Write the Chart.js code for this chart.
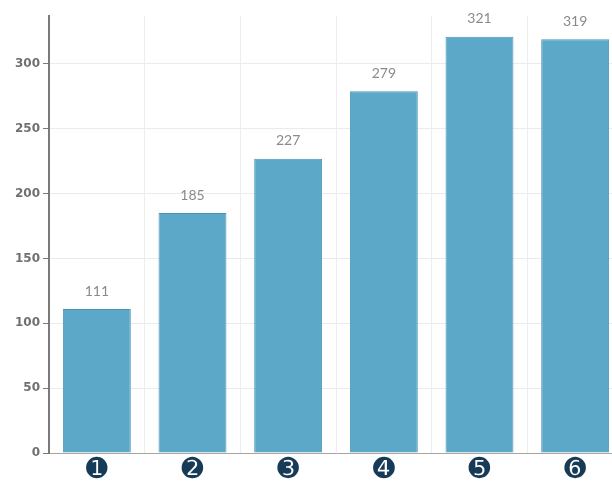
<!DOCTYPE html>
<html>
<head>
<meta charset="utf-8">
<script src="https://cdn.jsdelivr.net/npm/chart.js@4/dist/chart.umd.min.js"></script>
<style>
  html, body { margin: 0; padding: 0; background: #fff; overflow: hidden; }
  #wrap { width: 623px; height: 484px; }
</style>
</head>
<body>
<div id="wrap"><canvas id="scoreChart"></canvas></div>
<script>
var categories = ['\u278A', '\u278B', '\u278C', '\u278D', '\u278E', '\u278F'];
var counts = [111, 185, 227, 279, 321, 319];
var yTickValues = [0, 50, 100, 150, 200, 250, 300];

// value printed above each bar
var barValues = {
    id: 'barValues',
    afterDatasetsDraw: function (chart) {
        var c = chart.ctx;
        var meta = chart.getDatasetMeta(0);
        c.save();
        c.font = '14px Lato, "DejaVu Sans", sans-serif';
        c.fillStyle = '#8a8a8a';
        c.textAlign = 'center';
        c.textBaseline = 'middle';
        meta.data.forEach(function (bar, i) {
            c.fillText(String(counts[i]), bar.x, bar.y - 18);
        });
        c.restore();
    }
};

var ctx = document.getElementById('scoreChart').getContext('2d');
var scoreChart = new Chart(ctx, {
    type: 'bar',
    data: {
        labels: categories,
        datasets: [
            {
                data: counts,
                backgroundColor: '#5ba8c9',
                borderColor: '#4a96b7',
                borderWidth: 1,
                barPercentage: 0.71,
                categoryPercentage: 1
            }
        ]
    },
    plugins: [barValues],
    options: {
        responsive: true,
        maintainAspectRatio: false,
        animation: false,
        layout: { padding: { top: 16, right: 0, left: 0, bottom: 0 } },
        plugins: {
            legend: { display: false },
            tooltip: { enabled: false }
        },
        scales: {
            x: {
                grid: { color: '#ededed', drawTicks: false },
                border: { display: true, color: '#a9a49c', width: 1 },
                ticks: {
                    color: '#173a56',
                    padding: 2,
                    font: { family: '"DejaVu Sans"', size: 26 }
                },
                afterFit: function (scale) { scale.height = 31; }
            },
            y: {
                min: 0,
                max: 337,
                afterBuildTicks: function (scale) {
                    scale.ticks = yTickValues.map(function (v) { return { value: v }; });
                },
                grid: { color: '#ebebeb', tickColor: '#7a7a7a', tickLength: 6 },
                border: { display: true, color: '#7a7a7a', width: 2 },
                ticks: {
                    color: '#707070',
                    padding: 3,
                    font: { family: '"DejaVu Sans", sans-serif', size: 12, weight: 'bold' }
                },
                afterFit: function (scale) { scale.width = 49; }
            }
        }
    }
});
</script>
</body>
</html>
